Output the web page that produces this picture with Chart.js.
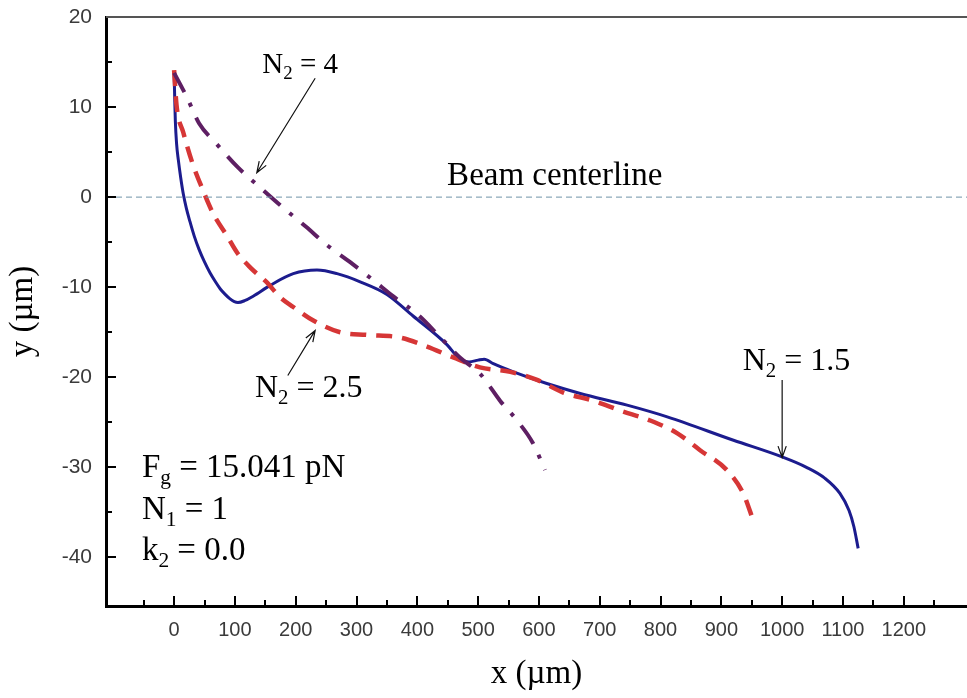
<!DOCTYPE html>
<html>
<head>
<meta charset="utf-8">
<script src="https://cdn.jsdelivr.net/npm/chart.js@4"></script>
<style>
  html, body { margin: 0; padding: 0; background: #fff; }
  canvas { display: block; }
</style>
</head>
<body>
<canvas id="grafico" width="967" height="698"></canvas>
<script>
// N2 = 1.5 (solid blue)
const blueX = [0, 1, 2, 4, 7, 11, 15, 20, 26, 33, 41, 50, 59, 68, 76, 84, 92, 99, 105, 116, 130, 158, 196, 235, 268, 306, 350, 393, 449, 470, 485, 500, 510, 525, 558, 613, 668, 745, 811, 920, 1002, 1040, 1070, 1095, 1110, 1118, 1125];
const blueY = [13.9, 11, 8.5, 6, 4.1, 2.1, 0.4, -1.2, -2.7, -4.3, -5.8, -7.2, -8.4, -9.4, -10.2, -10.8, -11.3, -11.6, -11.7, -11.5, -11.0, -9.8, -8.5, -8.1, -8.5, -9.4, -10.8, -13.2, -16.4, -18.0, -18.3, -18.1, -18.0, -18.5, -19.4, -20.7, -21.8, -23.1, -24.4, -27.0, -28.9, -30.0, -31.2, -32.9, -34.8, -36.6, -39.0];

// N2 = 2.5 (red dashed)
const redX = [0, 4, 15, 30, 46, 64, 87, 104, 125, 153, 174, 196, 229, 273, 317, 372, 416, 459, 503, 553, 597, 640, 689, 734, 783, 827, 865, 909, 936, 953];
const redY = [14.1, 10.2, 7.2, 3.8, 1.0, -1.8, -4.3, -6.2, -7.8, -9.5, -11.1, -12.2, -13.7, -15.0, -15.3, -15.6, -16.6, -17.8, -18.9, -19.4, -20.3, -21.7, -22.6, -23.7, -24.8, -26.2, -28.1, -30.3, -32.9, -36.0];

// N2 = 4 (purple dash-dot)
const purpleX = [0, 21, 41, 70, 105, 141, 178, 217, 251, 289, 327, 360, 400, 437, 470, 503, 520, 536, 564, 590, 610];
const purpleY = [13.8, 11.1, 8.2, 5.9, 3.3, 1.1, -1.1, -3.3, -5.3, -7.2, -9.2, -11.0, -13.0, -15.5, -17.8, -19.6, -21.1, -22.6, -24.8, -27.3, -30.3];

// beam centerline
const centerX = [-112, 1304];
const centerY = [0, 0];

// tick labels
const xTicks = [0, 100, 200, 300, 400, 500, 600, 700, 800, 900, 1000, 1100, 1200];
const yTicks = [-40, -30, -20, -10, 0, 10, 20];

// annotation texts: [parts, x, y, size]
const textos = [
  [[["N", 0], ["2", 1], [" = 4", 0]], 145, 13.8, 29],
  [[["N", 0], ["2", 1], [" = 2.5", 0]], 133, -22.2, 32],
  [[["N", 0], ["2", 1], [" = 1.5", 0]], 935, -19.2, 32],
  [[["Beam centerline", 0]], 449, 1.3, 33],
  [[["F", 0], ["g", 1], [" = 15.041 pN", 0]], -53, -31.1, 33],
  [[["N", 0], ["1", 1], [" = 1", 0]], -53, -35.7, 33],
  [[["k", 0], ["2", 1], [" = 0.0", 0]], -53, -40.3, 33]
];
// arrows: [x1, y1, x2(head), y2(head)]
const flechas = [
  [232, 13.2, 136, 2.7],
  [187, -19.8, 232, -14.8],
  [1000, -20.3, 1000, -28.9]
];

const pares = (xs, ys) => xs.map((v, i) => ({ x: v, y: ys[i] }));
const serif = "'Liberation Serif', 'Times New Roman', serif";

const decor = {
  id: "decor",
  afterDraw(chart) {
    const { ctx, chartArea: a, scales: { x, y } } = chart;
    ctx.save();
    // borde superior
    ctx.strokeStyle = "#555";
    ctx.lineWidth = 2;
    ctx.beginPath();
    ctx.moveTo(a.left, a.top);
    ctx.lineTo(a.right, a.top);
    ctx.stroke();

    // marcas hacia dentro
    ctx.strokeStyle = "#000";
    ctx.lineWidth = 2;
    for (let v = -50; v <= 1250; v += 50) {
      const px = Math.round(x.getPixelForValue(v));
      const len = v % 100 === 0 ? 10 : 6;
      ctx.beginPath();
      ctx.moveTo(px, a.bottom);
      ctx.lineTo(px, a.bottom - len);
      ctx.stroke();
    }
    for (let v = -40; v <= 15; v += 5) {
      const py = Math.round(y.getPixelForValue(v));
      const len = v % 10 === 0 ? 10 : 6;
      ctx.beginPath();
      ctx.moveTo(a.left, py);
      ctx.lineTo(a.left + len, py);
      ctx.stroke();
    }

    // textos
    ctx.fillStyle = "#000";
    ctx.textBaseline = "alphabetic";
    ctx.textAlign = "left";
    textos.forEach(([parts, xv, yv, size]) => {
      let px = x.getPixelForValue(xv);
      const py = y.getPixelForValue(yv);
      parts.forEach(([t, sub]) => {
        const s = sub ? size * 0.65 : size;
        ctx.font = `${s}px ${serif}`;
        ctx.fillText(t, px, sub ? py + size * 0.22 : py);
        px += ctx.measureText(t).width;
      });
    });

    // flechas
    ctx.strokeStyle = "#111";
    ctx.lineWidth = 1.2;
    flechas.forEach(([x1, y1, x2, y2]) => {
      const ax = x.getPixelForValue(x1), ay = y.getPixelForValue(y1);
      const bx = x.getPixelForValue(x2), by = y.getPixelForValue(y2);
      const ang = Math.atan2(by - ay, bx - ax);
      ctx.beginPath();
      ctx.moveTo(ax, ay);
      ctx.lineTo(bx, by);
      ctx.moveTo(bx - 12 * Math.cos(ang - 0.35), by - 12 * Math.sin(ang - 0.35));
      ctx.lineTo(bx, by);
      ctx.lineTo(bx - 12 * Math.cos(ang + 0.35), by - 12 * Math.sin(ang + 0.35));
      ctx.stroke();
    });
    ctx.restore();
  }
};

const ctx = document.getElementById("grafico").getContext("2d");
new Chart(ctx, {
  type: "scatter",
  data: {
    datasets: [
      {
        label: "Beam centerline",
        data: pares(centerX, centerY),
        showLine: true,
        borderColor: "#6f93a8",
        borderWidth: 1,
        borderDash: [6, 4],
        pointRadius: 0
      },
      {
        label: "N2 = 4",
        data: pares(purpleX, purpleY),
        showLine: true,
        borderColor: "#5e1f63",
        borderWidth: 4,
        borderDash: [22, 12, 4, 12],
        pointRadius: 0,
        cubicInterpolationMode: "monotone"
      },
      {
        label: "N2 = 2.5",
        data: pares(redX, redY),
        showLine: true,
        borderColor: "#d63636",
        borderWidth: 4.5,
        borderDash: [16, 10],
        pointRadius: 0,
        cubicInterpolationMode: "monotone"
      },
      {
        label: "N2 = 1.5",
        data: pares(blueX, blueY),
        showLine: true,
        borderColor: "#1c1c8e",
        borderWidth: 3,
        pointRadius: 0,
        cubicInterpolationMode: "monotone"
      }
    ]
  },
  options: {
    responsive: false,
    animation: false,
    layout: { padding: { top: 17, right: 0, left: 0, bottom: 0 } },
    plugins: {
      legend: { display: false },
      tooltip: { enabled: false }
    },
    scales: {
      x: {
        type: "linear",
        min: -112,
        max: 1304,
        afterFit: s => { s.height = 92; s.paddingLeft = 0; s.paddingRight = 0; },
        afterBuildTicks: s => { s.ticks = xTicks.map(v => ({ value: v })); },
        grid: { display: false, drawTicks: false },
        border: { display: true, color: "#000", width: 3 },
        ticks: {
          padding: 12,
          color: "#3a3a3a",
          font: { family: "'Liberation Sans', Arial, sans-serif", size: 20 },
          maxRotation: 0,
          callback: v => String(v)
        },
        title: {
          display: true,
          text: "x (µm)",
          color: "#000",
          font: { family: serif, size: 33 },
          padding: { top: 0, bottom: 4 }
        }
      },
      y: {
        min: -45.4,
        max: 20,
        afterFit: s => { s.width = 106; s.paddingTop = 0; s.paddingBottom = 0; },
        afterBuildTicks: s => { s.ticks = yTicks.map(v => ({ value: v })); },
        grid: { display: false, drawTicks: false },
        border: { display: true, color: "#000", width: 3 },
        ticks: {
          padding: 14,
          color: "#3a3a3a",
          font: { family: "'Liberation Sans', Arial, sans-serif", size: 21 },
          callback: v => String(v)
        },
        title: {
          display: true,
          text: "y (µm)",
          color: "#000",
          font: { family: serif, size: 33 },
          padding: { top: 4, bottom: 0 }
        }
      }
    }
  },
  plugins: [decor]
});
</script>
</body>
</html>
